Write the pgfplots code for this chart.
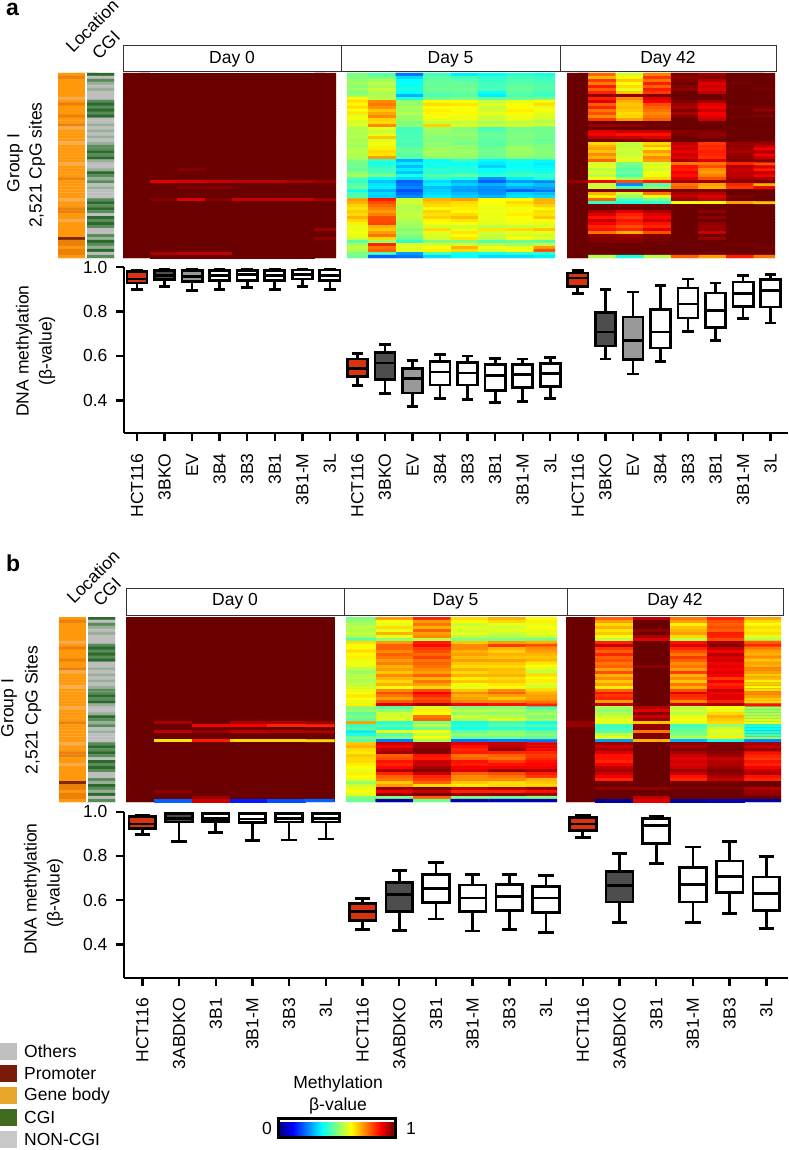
\documentclass[border=0pt]{standalone}
\usepackage{fontspec}
\setmainfont{Liberation Sans}
\usepackage{pgfplots}
\usepackage{pgfplotstable}
\pgfplotsset{compat=1.18}
\usepgfplotslibrary{statistics}
\newcommand\fs{\fontsize{17.5}{20}\selectfont}
\pgfplotsset{
 colormap={mj}{rgb255(0cm)=(0,0,120) rgb255(1cm)=(0,0,255) rgb255(3cm)=(0,255,255) rgb255(5cm)=(255,255,0) rgb255(7cm)=(255,0,0) rgb255(8cm)=(107,0,0)},
 colormap={strip}{rgb255(0cm)=(255,152,10) rgb255(1cm)=(248,172,80) rgb255(2cm)=(235,128,10) rgb255(3cm)=(130,40,10) rgb255(4cm)=(190,190,190) rgb255(5cm)=(150,175,150) rgb255(6cm)=(90,140,90) rgb255(7cm)=(45,105,45)},
}
\definecolor{darkcell}{RGB}{107,0,0}
\definecolor{greencell}{RGB}{170,255,90}
\definecolor{orangecell}{RGB}{255,205,0}
% heat map: x0 y0 x1 y1 xmin xmax cols table underlay
\newcommand\hm[9]{%
 \fill[#9] (#1pt,-#2pt) rectangle (#3pt,-#4pt);
 \pgfmathsetlengthmacro\hmw{(#3-#1)*1pt}\pgfmathsetlengthmacro\hmh{(#4-#2)*1pt}%
 \begin{axis}[at={(#1pt,-#4pt)},anchor=south west,scale only axis,width=\hmw,height=\hmh,
  hide axis,y dir=reverse,xmin=#5,xmax=#6,ymin=-0.5,ymax=61.5,colormap name=mj,point meta min=0,point meta max=1]
 \addplot[matrix plot,draw=mapped color,line width=0.2pt,mesh/cols=#7,point meta=explicit]
  table[x index=0,y index=0,x expr={\coordindex-#7*floor((\coordindex+0.5)/#7)},y expr={floor((\coordindex+0.5)/#7)},meta index=0]{#8};
 \end{axis}}
\newcommand\strips[5]{%
 \pgfmathsetlengthmacro\hmw{(#3-#1)*1pt}\pgfmathsetlengthmacro\hmh{(#4-#2)*1pt}%
 \begin{axis}[at={(#1pt,-#4pt)},anchor=south west,scale only axis,width=\hmw,height=\hmh,
  hide axis,y dir=reverse,xmin=-0.5,xmax=1.5,ymin=-0.5,ymax=61.5,colormap name=strip,point meta min=0,point meta max=7]
 \addplot[matrix plot,draw=mapped color,line width=0.2pt,mesh/cols=2,point meta=explicit]
  table[x index=0,y index=0,x expr={\coordindex-2*floor((\coordindex+0.5)/2)},y expr={floor((\coordindex+0.5)/2)},meta index=0]{#5};
 \addplot[white,line width=1.2pt] coordinates {(0.5,-0.5) (0.5,61.5)};
 \end{axis}}
% box: pos lw lq med uq uw fill
\newcommand\bx[7]{\addplot[draw=black,line width=2.7pt,boxplot prepared={draw direction=y,draw position=#1,lower whisker=#2,lower quartile=#3,median=#4,upper quartile=#5,upper whisker=#6,box extend=0.73,whisker extend=0.42,every box/.style={fill=#7}}] coordinates {};}
\definecolor{hr}{HTML}{D8330C}
\definecolor{dg}{HTML}{4D4D4D}
\definecolor{mg}{HTML}{999999}
\pgfplotsset{boxaxis/.style={scale only axis,anchor=south west,clip=false,enlargelimits=false,
  axis x line=bottom,axis y line=left,axis line style={-,line width=2.4pt},
  tick style={black,line width=2.4pt},major tick length=8pt,tick align=outside,
  ytick={0.4,0.6,0.8,1},
  yticklabels={0.4,0.6,0.8,1.0},
  tick label style={font=\fs},
  yticklabel style={xshift=-5pt},
  xticklabel style={rotate=90,anchor=east,xshift=-9pt}}}
% Location / CGI strips: two values per row
\pgfplotstableread[row sep=crcr,header=false]{
0\\7\\2\\4\\0\\6\\0\\5\\0\\4\\0\\5\\0\\4\\0\\4\\1\\4\\0\\6\\2\\7\\0\\6\\0\\7\\0\\6\\2\\7\\0\\4\\0\\4\\2\\5\\1\\4\\0\\5\\0\\4\\0\\5\\0\\4\\1\\5\\0\\6\\0\\6\\0\\7\\0\\6\\0\\7\\0\\5\\1\\4\\0\\4\\0\\5\\0\\7\\0\\6\\2\\5\\0\\6\\0\\4\\0\\5\\0\\4\\0\\4\\0\\4\\1\\6\\0\\7\\0\\6\\2\\7\\2\\6\\0\\4\\0\\7\\1\\6\\0\\7\\0\\6\\0\\4\\0\\4\\0\\6\\3\\5\\2\\7\\2\\6\\0\\5\\2\\7\\2\\4\\0\\6\\
}\Tstrip
% a, Day 0
\pgfplotstableread[row sep=crcr,header=false]{
1\\1\\1\\1\\1\\1\\1\\1\\
1\\1\\1\\1\\1\\1\\1\\1\\
1\\1\\1\\1\\1\\1\\1\\1\\
1\\1\\1\\1\\1\\1\\1\\1\\
1\\1\\1\\1\\1\\1\\1\\1\\
1\\1\\1\\1\\1\\1\\1\\1\\
1\\1\\1\\1\\1\\1\\1\\1\\
1\\1\\1\\1\\1\\1\\1\\1\\
1\\1\\1\\1\\1\\1\\1\\1\\
1\\1\\1\\1\\1\\1\\1\\1\\
1\\1\\1\\1\\1\\1\\1\\1\\
1\\1\\1\\1\\1\\1\\1\\1\\
1\\1\\1\\1\\1\\1\\1\\1\\
1\\1\\1\\1\\1\\1\\1\\1\\
1\\1\\1\\1\\1\\1\\1\\1\\
1\\1\\1\\1\\1\\1\\1\\1\\
1\\1\\1\\1\\1\\1\\1\\1\\
1\\1\\1\\1\\1\\1\\1\\1\\
1\\1\\1\\1\\1\\1\\1\\1\\
1\\1\\1\\1\\1\\1\\1\\1\\
1\\1\\1\\1\\1\\1\\1\\1\\
1\\1\\1\\1\\1\\1\\1\\1\\
1\\1\\1\\1\\1\\1\\1\\1\\
1\\1\\1\\1\\1\\1\\1\\1\\
1\\1\\1\\1\\1\\1\\1\\1\\
1\\1\\1\\1\\1\\1\\1\\1\\
1\\1\\1\\1\\1\\1\\1\\1\\
1\\1\\1\\1\\1\\1\\1\\1\\
1\\1\\1\\1\\1\\1\\1\\1\\
1\\1\\1\\1\\1\\1\\1\\1\\
1\\1\\1\\1\\1\\1\\1\\1\\
1\\1\\1\\1\\1\\1\\1\\1\\
1\\1\\.98\\1\\1\\1\\1\\1\\
1\\1\\1\\1\\1\\1\\1\\1\\
1\\1\\1\\1\\1\\1\\1\\1\\
1\\1\\1\\1\\1\\1\\1\\1\\
1\\.90\\.91\\.92\\.93\\.93\\.95\\.96\\
1\\1\\1\\1\\1\\1\\1\\1\\
1\\1\\.98\\.98\\1\\1\\1\\1\\
1\\1\\1\\1\\1\\1\\1\\1\\
1\\1\\1\\1\\1\\1\\1\\1\\
1\\1\\1\\1\\1\\1\\1\\1\\
1\\.98\\.90\\.98\\.92\\.92\\.92\\.95\\
1\\1\\1\\1\\1\\1\\1\\1\\
1\\1\\1\\1\\1\\1\\1\\1\\
1\\1\\1\\1\\1\\1\\1\\1\\
1\\1\\1\\1\\1\\1\\1\\1\\
1\\1\\1\\1\\1\\1\\1\\1\\
1\\1\\1\\1\\1\\1\\1\\1\\
1\\1\\1\\1\\1\\1\\1\\1\\
1\\1\\1\\1\\1\\1\\1\\1\\
1\\1\\1\\1\\1\\1\\1\\1\\
1\\1\\1\\1\\1\\1\\1\\.96\\
1\\1\\1\\1\\1\\1\\1\\1\\
1\\1\\1\\1\\1\\1\\1\\1\\
1\\1\\1\\1\\1\\1\\1\\.97\\
1\\1\\1\\1\\1\\1\\1\\1\\
1\\1\\1\\1\\1\\1\\1\\1\\
1\\1\\1\\1\\1\\1\\1\\1\\
1\\1\\1\\1\\1\\1\\1\\1\\
1\\.95\\.93\\.93\\1\\1\\1\\1\\
1\\1\\1\\1\\1\\1\\1\\1\\
}\TaA
% a, Day 5
\pgfplotstableread[row sep=crcr,header=false]{
.50\\.46\\.24\\.44\\.36\\.38\\.42\\.40\\
.50\\.50\\.34\\.46\\.44\\.42\\.44\\.43\\
.52\\.53\\.38\\.47\\.46\\.43\\.45\\.44\\
.53\\.56\\.38\\.48\\.48\\.44\\.46\\.45\\
.51\\.54\\.39\\.47\\.47\\.44\\.47\\.46\\
.53\\.57\\.40\\.49\\.49\\.45\\.48\\.46\\
.50\\.55\\.38\\.46\\.47\\.38\\.46\\.44\\
.52\\.54\\.30\\.45\\.46\\.36\\.45\\.43\\
.62\\.56\\.41\\.49\\.50\\.47\\.48\\.48\\
.66\\.74\\.52\\.63\\.62\\.57\\.60\\.62\\
.63\\.76\\.52\\.66\\.65\\.59\\.62\\.66\\
.66\\.73\\.54\\.62\\.62\\.57\\.62\\.60\\
.62\\.68\\.53\\.64\\.62\\.58\\.64\\.62\\
.65\\.71\\.55\\.63\\.63\\.60\\.63\\.60\\
.60\\.74\\.52\\.62\\.61\\.58\\.61\\.59\\
.62\\.67\\.53\\.60\\.60\\.57\\.60\\.58\\
.58\\.66\\.50\\.57\\.57\\.54\\.56\\.55\\
.60\\.74\\.51\\.67\\.59\\.57\\.58\\.58\\
.55\\.60\\.44\\.53\\.50\\.44\\.49\\.48\\
.55\\.57\\.44\\.52\\.51\\.46\\.49\\.49\\
.54\\.60\\.45\\.52\\.52\\.48\\.50\\.48\\
.56\\.68\\.44\\.51\\.50\\.47\\.50\\.49\\
.53\\.59\\.46\\.50\\.51\\.47\\.49\\.47\\
.55\\.62\\.44\\.52\\.49\\.46\\.50\\.48\\
.53\\.60\\.45\\.51\\.52\\.47\\.51\\.50\\
.55\\.64\\.47\\.53\\.52\\.48\\.53\\.50\\
.56\\.66\\.48\\.54\\.53\\.49\\.53\\.51\\
.54\\.65\\.46\\.53\\.52\\.48\\.52\\.50\\
.55\\.72\\.46\\.52\\.52\\.48\\.51\\.50\\
.50\\.42\\.30\\.38\\.42\\.37\\.40\\.37\\
.48\\.40\\.36\\.39\\.39\\.36\\.38\\.36\\
.49\\.42\\.31\\.40\\.40\\.33\\.38\\.37\\
.47\\.44\\.36\\.42\\.41\\.38\\.40\\.38\\
.51\\.45\\.32\\.41\\.42\\.39\\.41\\.40\\
.54\\.50\\.40\\.46\\.47\\.42\\.44\\.43\\
.45\\.38\\.34\\.42\\.40\\.27\\.36\\.40\\
.42\\.32\\.22\\.34\\.30\\.22\\.28\\.26\\
.46\\.35\\.24\\.36\\.33\\.30\\.34\\.31\\
.48\\.36\\.26\\.31\\.29\\.27\\.30\\.28\\
.38\\.30\\.20\\.33\\.28\\.26\\.22\\.24\\
.44\\.34\\.23\\.34\\.31\\.27\\.33\\.31\\
.46\\.33\\.26\\.36\\.33\\.30\\.35\\.34\\
.72\\.85\\.57\\.70\\.72\\.62\\.62\\.70\\
.70\\.80\\.58\\.68\\.66\\.62\\.66\\.70\\
.67\\.77\\.56\\.66\\.65\\.61\\.64\\.67\\
.65\\.75\\.55\\.63\\.64\\.60\\.61\\.63\\
.68\\.72\\.56\\.67\\.63\\.62\\.63\\.66\\
.66\\.75\\.57\\.65\\.66\\.60\\.64\\.65\\
.70\\.80\\.56\\.67\\.69\\.61\\.62\\.68\\
.66\\.80\\.55\\.63\\.65\\.60\\.62\\.63\\
.64\\.81\\.54\\.62\\.62\\.60\\.61\\.60\\
.60\\.70\\.53\\.58\\.58\\.56\\.57\\.59\\
.60\\.68\\.50\\.66\\.60\\.65\\.66\\.68\\
.62\\.72\\.53\\.60\\.65\\.58\\.60\\.60\\
.60\\.76\\.50\\.59\\.62\\.57\\.59\\.58\\
.58\\.66\\.48\\.58\\.65\\.56\\.62\\.60\\
.46\\.52\\.42\\.50\\.50\\.46\\.48\\.46\\
.54\\.84\\.60\\.58\\.58\\.55\\.53\\.56\\
.56\\.76\\.59\\.62\\.70\\.62\\.60\\.72\\
.55\\.78\\.60\\.64\\.66\\.58\\.62\\.80\\
.50\\.45\\.28\\.44\\.40\\.40\\.42\\.42\\
.48\\.22\\.24\\.34\\.38\\.34\\.34\\.36\\
}\TaB
% a, Day 42
\pgfplotstableread[row sep=crcr,header=false]{
1\\.78\\.58\\.75\\.98\\.96\\1\\1\\
1\\.70\\.63\\.82\\.97\\.98\\1\\1\\
1\\.82\\.68\\.76\\.98\\.94\\1\\1\\
1\\.75\\.62\\.85\\1\\.90\\.99\\1\\
1\\.85\\.66\\.78\\.98\\.92\\1\\1\\
1\\.78\\.60\\.85\\.97\\.90\\1\\.99\\
1\\.84\\.68\\.82\\1\\.93\\1\\1\\
1\\.97\\.97\\.98\\1\\1\\1\\1\\
1\\.85\\.74\\.90\\1\\1\\1\\1\\
1\\.90\\.70\\.88\\.98\\.95\\1\\1\\
1\\.78\\.68\\.80\\.96\\.90\\1\\1\\
1\\.84\\.69\\.78\\.94\\.88\\.99\\.99\\
1\\.76\\.68\\.76\\.98\\.92\\1\\.97\\
1\\.80\\.66\\.74\\.95\\.88\\1\\1\\
1\\.74\\.67\\.76\\.98\\.90\\.99\\.98\\
1\\.82\\.72\\.78\\1\\.92\\1\\1\\
1\\1\\1\\1\\1\\1\\1\\1\\
1\\.96\\.97\\.99\\1\\1\\1\\1\\
1\\1\\1\\1\\1\\1\\1\\1\\
1\\.90\\.92\\.92\\.98\\.98\\1\\1\\
1\\.88\\.86\\.86\\.98\\.97\\1\\1\\
1\\.93\\.92\\.90\\1\\.98\\1\\1\\
1\\.99\\.98\\.98\\1\\1\\1\\1\\
1\\.66\\.57\\.66\\.93\\.82\\.96\\.96\\
1\\.70\\.56\\.70\\.90\\.84\\.97\\.93\\
1\\.72\\.58\\.64\\.92\\.83\\.96\\.88\\
1\\.68\\.57\\.72\\.89\\.85\\.95\\.94\\
1\\.74\\.57\\.68\\.92\\.84\\.96\\.88\\
1\\.70\\.59\\.74\\.90\\.83\\.97\\.92\\
1\\.78\\.60\\.72\\.95\\.90\\.98\\.98\\
1\\.58\\.50\\.58\\.76\\.76\\.84\\.80\\
1\\.60\\.48\\.60\\.86\\.80\\.94\\.90\\
1\\.56\\.46\\.58\\.85\\.74\\.92\\.85\\
1\\.59\\.48\\.62\\.88\\.72\\.93\\.92\\
1\\.55\\.45\\.60\\.86\\.75\\.93\\.88\\
1\\.62\\.54\\.66\\.90\\.80\\.95\\.95\\
.96\\.88\\.80\\.85\\.96\\.96\\.98\\.98\\
1\\.56\\.26\\.46\\.76\\.72\\.84\\.70\\
1\\.58\\.44\\.50\\.78\\.70\\.82\\.88\\
1\\.98\\.97\\.98\\.99\\.98\\1\\1\\
1\\.70\\.58\\.76\\.95\\.94\\1\\1\\
1\\.64\\.52\\.60\\.93\\.90\\.98\\1\\
1\\.78\\.46\\.50\\.96\\.93\\1\\1\\
1\\.42\\.40\\.42\\.62\\.62\\.72\\.68\\
1\\.99\\.98\\.99\\1\\1\\1\\1\\
1\\1\\1\\1\\1\\1\\1\\1\\
1\\.95\\.90\\.95\\1\\.97\\1\\1\\
1\\.90\\.85\\.90\\1\\1\\1\\1\\
1\\.86\\.82\\.88\\1\\.97\\1\\1\\
1\\.92\\.86\\.92\\1\\1\\1\\1\\
1\\.88\\.84\\.86\\1\\.97\\1\\1\\
1\\.84\\.80\\.84\\1\\.96\\1\\1\\
1\\.86\\.84\\.90\\1\\.97\\1\\1\\
1\\.76\\.70\\.80\\1\\.92\\1\\1\\
1\\.97\\.96\\.98\\1\\1\\1\\1\\
1\\.98\\.97\\.99\\1\\.96\\1\\1\\
1\\.98\\.98\\.99\\1\\1\\1\\1\\
1\\1\\1\\1\\1\\1\\.99\\1\\
1\\1\\1\\1\\1\\1\\1\\.99\\
1\\1\\1\\1\\1\\1\\1\\1\\
1\\1\\1\\1\\1\\.99\\1\\1\\
1\\.55\\.40\\.55\\.78\\.72\\.85\\.76\\
}\TaC
% b, Day 0
\pgfplotstableread[row sep=crcr,header=false]{
1\\1\\1\\1\\1\\1\\
1\\1\\1\\1\\1\\1\\
1\\1\\1\\1\\1\\1\\
1\\1\\1\\1\\1\\1\\
1\\1\\1\\1\\1\\1\\
1\\1\\1\\1\\1\\1\\
1\\1\\1\\1\\1\\1\\
1\\1\\1\\1\\1\\1\\
1\\1\\1\\1\\1\\1\\
1\\1\\1\\1\\1\\1\\
1\\1\\1\\1\\1\\1\\
1\\1\\1\\1\\1\\1\\
1\\1\\1\\1\\1\\1\\
1\\1\\1\\1\\1\\1\\
1\\1\\1\\1\\1\\1\\
1\\1\\1\\1\\1\\1\\
1\\1\\1\\1\\1\\1\\
1\\1\\1\\1\\1\\1\\
1\\1\\1\\1\\1\\1\\
1\\1\\1\\1\\1\\1\\
1\\1\\1\\1\\1\\1\\
1\\1\\1\\1\\1\\1\\
1\\1\\1\\1\\1\\1\\
1\\1\\1\\1\\1\\1\\
1\\1\\1\\1\\1\\1\\
1\\1\\1\\1\\1\\1\\
1\\1\\1\\1\\1\\1\\
1\\1\\1\\1\\1\\1\\
1\\1\\1\\1\\1\\1\\
1\\1\\1\\1\\1\\1\\
1\\1\\1\\1\\1\\1\\
1\\1\\1\\1\\1\\1\\
1\\1\\1\\1\\1\\1\\
1\\1\\1\\1\\1\\1\\
1\\1\\1\\1\\1\\1\\
1\\.95\\1\\.94\\.94\\.95\\
1\\1\\.88\\.88\\.84\\.84\\
1\\1\\1\\1\\1\\1\\
1\\.93\\.96\\.93\\.94\\.94\\
1\\1\\1\\1\\1\\1\\
1\\1\\1\\1\\1\\1\\
1\\.65\\.85\\.66\\.66\\.66\\
1\\1\\1\\1\\1\\1\\
1\\1\\1\\1\\1\\1\\
1\\1\\1\\1\\1\\1\\
1\\1\\1\\1\\1\\1\\
1\\1\\1\\1\\1\\1\\
1\\1\\1\\1\\1\\1\\
1\\1\\1\\1\\1\\1\\
1\\1\\1\\1\\1\\1\\
1\\1\\1\\1\\1\\1\\
1\\1\\1\\1\\1\\1\\
1\\1\\1\\1\\1\\1\\
1\\1\\1\\1\\1\\1\\
1\\1\\1\\1\\1\\1\\
1\\1\\1\\1\\1\\1\\
1\\1\\1\\1\\1\\1\\
1\\1\\1\\1\\1\\1\\
1\\.97\\1\\1\\1\\1\\
1\\1\\1\\1\\1\\1\\
1\\1\\.96\\1\\1\\1\\
1\\.22\\.92\\.15\\.20\\.22\\
}\TbA
% b, Day 5
\pgfplotstableread[row sep=crcr,header=false]{
.50\\.72\\.84\\.66\\.70\\.62\\
.52\\.62\\.72\\.63\\.66\\.64\\
.54\\.60\\.76\\.57\\.60\\.60\\
.56\\.66\\.70\\.60\\.58\\.62\\
.55\\.60\\.78\\.58\\.60\\.60\\
.57\\.70\\.72\\.60\\.57\\.61\\
.54\\.60\\.74\\.56\\.55\\.57\\
.46\\.52\\.56\\.50\\.50\\.49\\
.66\\.72\\.85\\.68\\.72\\.70\\
.62\\.78\\.87\\.74\\.82\\.80\\
.62\\.78\\.82\\.74\\.70\\.74\\
.66\\.74\\.80\\.70\\.67\\.72\\
.63\\.78\\.77\\.72\\.70\\.70\\
.64\\.76\\.81\\.69\\.68\\.68\\
.60\\.72\\.76\\.72\\.72\\.70\\
.62\\.75\\.78\\.68\\.68\\.65\\
.60\\.70\\.76\\.66\\.66\\.62\\
.56\\.72\\.74\\.70\\.69\\.60\\
.52\\.68\\.72\\.66\\.68\\.56\\
.55\\.74\\.78\\.70\\.70\\.66\\
.56\\.70\\.70\\.64\\.66\\.62\\
.54\\.66\\.76\\.68\\.68\\.64\\
.56\\.70\\.72\\.62\\.65\\.60\\
.58\\.62\\.66\\.60\\.62\\.58\\
.60\\.74\\.80\\.68\\.74\\.66\\
.62\\.80\\.88\\.74\\.78\\.70\\
.65\\.76\\.84\\.70\\.72\\.72\\
.62\\.72\\.80\\.72\\.68\\.72\\
.60\\.78\\.82\\.74\\.74\\.76\\
.64\\.90\\.95\\.88\\.86\\.84\\
.50\\.46\\.58\\.50\\.50\\.44\\
.52\\.52\\.64\\.56\\.55\\.50\\
.46\\.58\\.62\\.52\\.52\\.54\\
.50\\.58\\.76\\.58\\.55\\.50\\
.46\\.60\\.78\\.55\\.60\\.54\\
.72\\.42\\.50\\.40\\.44\\.38\\
.42\\.45\\.56\\.42\\.46\\.44\\
.46\\.42\\.48\\.40\\.41\\.40\\
.36\\.60\\.62\\.46\\.50\\.46\\
.40\\.46\\.56\\.52\\.52\\.50\\
.48\\.50\\.62\\.48\\.48\\.46\\
.46\\.25\\.54\\.24\\.25\\.24\\
.68\\.92\\.96\\.90\\.92\\.90\\
.70\\.88\\.96\\.86\\.93\\.90\\
.66\\.93\\.98\\.84\\.96\\.88\\
.64\\.95\\.98\\.85\\.84\\.84\\
.68\\.78\\.86\\.76\\.78\\.82\\
.66\\.80\\.85\\.78\\.76\\.84\\
.66\\.86\\.92\\.86\\.82\\.86\\
.64\\.84\\.92\\.85\\.86\\.87\\
.62\\.87\\.95\\.88\\.88\\.88\\
.60\\.94\\.98\\.90\\.96\\.94\\
.64\\.84\\.92\\.78\\.80\\.85\\
.62\\.78\\.84\\.74\\.76\\.82\\
.60\\.76\\.82\\.74\\.74\\.70\\
.52\\.68\\.78\\.68\\.66\\.68\\
.58\\.72\\.66\\.64\\.66\\.66\\
.60\\.96\\.98\\.92\\.94\\.96\\
.62\\.88\\.92\\.84\\.84\\.86\\
.60\\.97\\.99\\.96\\.97\\.96\\
.50\\.50\\.78\\.50\\.48\\.50\\
.48\\.04\\.48\\.05\\.06\\.05\\
}\TbB
% b, Day 42
\pgfplotstableread[row sep=crcr,header=false]{
1\\.78\\.93\\.76\\.84\\.72\\
1\\.72\\1\\.72\\.80\\.66\\
1\\.66\\1\\.64\\.78\\.62\\
1\\.70\\1\\.68\\.80\\.66\\
1\\.65\\.97\\.70\\.78\\.64\\
1\\.68\\1\\.72\\.85\\.66\\
1\\.62\\.95\\.66\\.84\\.60\\
1\\.56\\.90\\.56\\.80\\.56\\
1\\.84\\1\\.86\\.95\\.78\\
1\\.92\\1\\.90\\.98\\.84\\
1\\.82\\1\\.84\\.92\\.76\\
1\\.78\\1\\.80\\.88\\.72\\
1\\.84\\1\\.76\\.94\\.70\\
1\\.78\\1\\.82\\.90\\.74\\
1\\.80\\1\\.78\\.92\\.68\\
1\\.76\\1\\.74\\.88\\.72\\
1\\.78\\.97\\.76\\.90\\.70\\
1\\.72\\1\\.72\\.88\\.74\\
1\\.80\\1\\.82\\.90\\.72\\
1\\.70\\1\\.70\\.88\\.68\\
1\\.74\\1\\.74\\.82\\.70\\
1\\.68\\1\\.68\\.88\\.64\\
1\\.72\\1\\.76\\.84\\.68\\
1\\.64\\1\\.70\\.86\\.62\\
1\\.78\\1\\.80\\.92\\.66\\
1\\.86\\1\\.90\\.88\\.74\\
1\\.82\\1\\.84\\.90\\.72\\
1\\.84\\1\\.82\\.90\\.68\\
1\\.72\\1\\.74\\.84\\.66\\
1\\.92\\1\\.92\\.95\\.86\\
1\\.54\\.94\\.56\\.62\\.53\\
1\\.52\\.90\\.58\\.60\\.52\\
1\\.54\\.98\\.56\\.66\\.54\\
1\\.58\\.92\\.60\\.70\\.55\\
1\\.60\\.96\\.62\\.68\\.58\\
.96\\.60\\.68\\.60\\.66\\.60\\
.96\\.44\\.96\\.44\\.52\\.40\\
1\\.44\\.97\\.46\\.58\\.38\\
1\\.46\\.76\\.48\\.60\\.40\\
1\\.56\\.98\\.50\\.58\\.44\\
1\\.60\\.98\\.54\\.64\\.50\\
1\\.28\\.70\\.30\\.38\\.26\\
1\\.96\\1\\.98\\.98\\.95\\
1\\.92\\1\\.95\\.98\\.92\\
1\\.95\\1\\.98\\.99\\.96\\
1\\.90\\1\\.95\\.97\\.86\\
1\\.86\\1\\.92\\.96\\.84\\
1\\.86\\1\\.90\\.92\\.82\\
1\\.84\\1\\.92\\.94\\.86\\
1\\.88\\1\\.90\\.94\\.84\\
1\\.93\\1\\.92\\.96\\.88\\
1\\.95\\1\\.96\\.98\\.92\\
1\\.92\\1\\.92\\.97\\.94\\
1\\.88\\1\\.86\\.95\\.86\\
1\\.84\\1\\.84\\.92\\.84\\
1\\.99\\1\\.99\\.99\\1\\
1\\1\\1\\1\\1\\1\\
1\\.97\\.97\\.98\\.98\\.94\\
1\\1\\1\\1\\1\\.96\\
1\\1\\1\\1\\1\\.97\\
1\\1\\.93\\1\\1\\1\\
1\\.03\\.90\\.03\\.05\\.04\\
}\TbC
\newcommand\hdr[5]{\draw[line width=1pt,draw=black!80,fill=white] (#1pt,-#2pt) rectangle (#3pt,-#4pt);\node[font=\fs] at ({(#1+#3)/2*1pt},{-(#2+#4)/2*1pt}) {#5};}
\newcommand\txt[4][0]{\node[font=\fs,rotate=#1,inner sep=0pt] at (#2pt,-#3pt) {#4};}
\newcommand\lgd[3]{\fill[#2] (0pt,-#1pt) rectangle (17pt,{-(#1+17)*1pt});\node[font=\fs,anchor=west,inner sep=0pt] at (24pt,{-(#1+8.5)*1pt}) {#3};}
\definecolor{lgA}{HTML}{C0C0C0}\definecolor{lgB}{HTML}{7A1A08}\definecolor{lgC}{HTML}{E8A62B}\definecolor{lgD}{HTML}{3F6B1F}\definecolor{lgE}{HTML}{C8C8C8}
\begin{document}
\begin{tikzpicture}
\path[use as bounding box] (0pt,0pt) rectangle (788pt,-1150pt);
% panel a
\node[font=\bfseries\fontsize{23}{25}\selectfont,anchor=base west,inner sep=0pt] at (6pt,-16pt) {a};
\txt[45]{92}{26}{Location}
\txt[45]{106}{45}{CGI}
\hdr{123}{46}{341}{72}{Day 0}
\hdr{341}{46}{560}{72}{Day 5}
\hdr{560}{46}{776}{72}{Day 42}
\txt[90]{15}{163}{Group I}
\txt[90]{37}{165}{2,521 CpG sites}
\strips{58}{73}{114}{258}{\Tstrip}
\hm{123}{73}{336}{258}{-0.49}{7.29}{8}{\TaA}{darkcell}
\hm{347}{73}{555}{258}{-0.27}{7.27}{8}{\TaB}{greencell}
\hm{567}{73}{775}{258}{-0.27}{7.27}{8}{\TaC}{darkcell}
\begin{axis}[boxaxis,at={(124pt,-433pt)},width=664pt,height=166pt,xmin=-0.472,xmax=23.63,ymin=0.2535,ymax=1,
 xtick={0,...,23},xticklabels={HCT116,3BKO,EV,3B4,3B3,3B1,3B1-M,3L,HCT116,3BKO,EV,3B4,3B3,3B1,3B1-M,3L,HCT116,3BKO,EV,3B4,3B3,3B1,3B1-M,3L}]
\bx{0}{.898}{.928}{.946}{.98}{.984}{hr}
\bx{1}{.911}{.943}{.9625}{.985}{.988}{dg}
\bx{2}{.895}{.935}{.958}{.985}{.988}{mg}
\bx{3}{.90}{.938}{.9625}{.985}{.988}{white}
\bx{4}{.908}{.94}{.965}{.985}{.988}{white}
\bx{5}{.90}{.939}{.9625}{.985}{.988}{white}
\bx{6}{.913}{.946}{.965}{.986}{.989}{white}
\bx{7}{.90}{.94}{.9625}{.986}{.989}{white}
\bx{8}{.466}{.508}{.545}{.586}{.61}{hr}
\bx{9}{.43}{.494}{.568}{.616}{.653}{dg}
\bx{10}{.372}{.433}{.50}{.545}{.578}{mg}
\bx{11}{.41}{.47}{.5275}{.575}{.605}{white}
\bx{12}{.403}{.47}{.524}{.571}{.60}{white}
\bx{13}{.391}{.445}{.5125}{.56}{.5875}{white}
\bx{14}{.394}{.459}{.5155}{.56}{.586}{white}
\bx{15}{.4075}{.4615}{.52}{.5665}{.593}{white}
\bx{16}{.88}{.913}{.95}{.973}{.985}{hr}
\bx{17}{.586}{.6445}{.7075}{.796}{.90}{dg}
\bx{18}{.5185}{.583}{.6685}{.775}{.8875}{mg}
\bx{19}{.574}{.6355}{.7075}{.808}{.9175}{white}
\bx{20}{.709}{.7705}{.8335}{.9055}{.946}{white}
\bx{21}{.6685}{.7285}{.8035}{.883}{.928}{white}
\bx{22}{.7675}{.823}{.88}{.9325}{.961}{white}
\bx{23}{.748}{.82}{.8935}{.943}{.9655}{white}
\end{axis}
\txt[90]{24}{351}{DNA methylation}
\txt[90]{47}{351}{(β-value)}
% panel b
\node[font=\bfseries\fontsize{23}{25}\selectfont,anchor=base west,inner sep=0pt] at (6pt,-571pt) {b};
\txt[45]{93}{577}{Location}
\txt[45]{107}{592}{CGI}
\hdr{126}{588}{344}{615}{Day 0}
\hdr{344}{588}{567}{615}{Day 5}
\hdr{567}{588}{783}{615}{Day 42}
\txt[90]{9}{708}{Group I}
\txt[90]{33}{710}{2,521 CpG Sites}
\strips{59}{617}{115}{802}{\Tstrip}
\hm{126}{617}{334.5}{802}{-0.26}{5.29}{6}{\TbA}{darkcell}
\hm{346}{617}{557}{802}{-0.29}{5.33}{6}{\TbB}{orangecell}
\hm{566}{617}{781}{802}{-0.29}{5.48}{6}{\TbC}{darkcell}
\begin{axis}[boxaxis,at={(124pt,-977.7pt)},width=664pt,height=166pt,xmin=-0.499,xmax=17.59,ymin=0.249,ymax=1,
 xtick={0,...,17},xticklabels={HCT116,3ABDKO,3B1,3B1-M,3B3,3L,HCT116,3ABDKO,3B1,3B1-M,3B3,3L,HCT116,3ABDKO,3B1,3B1-M,3B3,3L}]
\bx{0}{.896}{.925}{.944}{.977}{.985}{hr}
\bx{1}{.865}{.953}{.968}{.991}{.993}{dg}
\bx{2}{.907}{.956}{.97}{.991}{.993}{white}
\bx{3}{.869}{.952}{.967}{.991}{.993}{white}
\bx{4}{.872}{.953}{.968}{.991}{.993}{white}
\bx{5}{.877}{.953}{.968}{.991}{.993}{white}
\bx{6}{.466}{.508}{.549}{.585}{.6075}{hr}
\bx{7}{.462}{.55}{.627}{.681}{.735}{dg}
\bx{8}{.514}{.59}{.654}{.716}{.77}{white}
\bx{9}{.46}{.547}{.609}{.669}{.716}{white}
\bx{10}{.466}{.553}{.6165}{.671}{.716}{white}
\bx{11}{.454}{.543}{.609}{.663}{.711}{white}
\bx{12}{.883}{.914}{.944}{.973}{.985}{hr}
\bx{13}{.499}{.592}{.665}{.728}{.81}{dg}
\bx{14}{.767}{.857}{.938}{.968}{.98}{white}
\bx{15}{.499}{.592}{.672}{.749}{.84}{white}
\bx{16}{.54}{.633}{.707}{.777}{.865}{white}
\bx{17}{.471}{.553}{.63}{.704}{.797}{white}
\end{axis}
\txt[90]{32}{889}{DNA methylation}
\txt[90]{55}{893}{(β-value)}
% legends
\lgd{1043}{lgA}{Others}
\lgd{1065}{lgB}{Promoter}
\lgd{1087}{lgC}{Gene body}
\lgd{1109}{lgD}{CGI}
\lgd{1131}{lgE}{NON-CGI}
\txt{338}{1084}{Methylation}
\txt{338}{1106}{β-value}
\txt{267}{1128}{0}
\txt{411}{1128}{1}
\begin{axis}[at={(278pt,-1137pt)},anchor=south west,scale only axis,width=117pt,height=19pt,hide axis,
 xmin=0,xmax=1,ymin=0,ymax=1,colormap name=mj,point meta min=0,point meta max=1,colorbar horizontal,
 colorbar style={at={(0,0)},anchor=south west,scale only axis,width=117pt,height=19pt,xtick=\empty,ytick=\empty,axis line style={line width=3pt}}]
\end{axis}
\end{tikzpicture}
\end{document}
